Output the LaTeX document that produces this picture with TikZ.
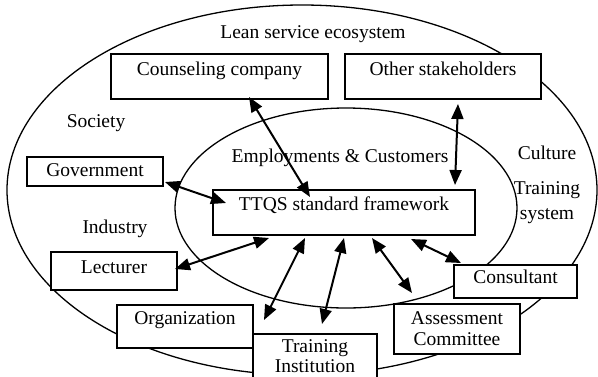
\documentclass[tikz,border=0pt]{standalone}
\usepackage{fontspec}
\setmainfont{Liberation Serif}
\usetikzlibrary{arrows.meta}

\tikzset{
    box/.style={draw, fill=white, line width=2pt, inner sep=0pt, anchor=north west},
    link/.style={<->, >={Triangle[length=15pt, width=12pt]}, line width=2pt},
}

\begin{document}
\begin{tikzpicture}[x=1pt, y=-1pt, font=\fontsize{19.5}{21}\selectfont]
    \useasboundingbox (0,0) rectangle (598,376);
    \clip (0,0) rectangle (598,376);
    \draw[line width=1.3pt] (302,190) ellipse [x radius=295, y radius=185];
    \draw[line width=1.3pt] (346,208) ellipse [x radius=171, y radius=100];

    \node[anchor=base] (eco) at (313,38) {Lean service ecosystem};
    \node[anchor=base] (soc) at (96,127) {Society};
    \node[anchor=base] (emp) at (340,162) {Employments \& Customers};
    \node[anchor=base] (cul) at (547,159) {Culture};
    \node[align=center, font=\fontsize{19.5}{25}\selectfont] (trs) at (547,203) {Training\\system};
    \node[anchor=base] (ind) at (115,233) {Industry};

    \node[box, minimum width=217pt, text height=21pt, text depth=24pt] (cc) at (110,53) {Counseling company};
    \node[box, minimum width=196pt, text height=21pt, text depth=24pt] (os) at (344,53) {Other stakeholders};
    \node[box, minimum width=136pt, text height=19pt, text depth=10pt] (gov) at (26,156) {Government};
    \node[box, minimum width=262pt, text height=20pt, text depth=25pt] (tt) at (212,189) {TTQS standard framework};
    \node[box, minimum width=126pt, text height=21pt, text depth=17pt] (lec) at (50,251) {Lecturer};
    \node[box, minimum width=136pt, text height=19pt, text depth=24pt] (org) at (116,304) {Organization};
    \node[box, minimum width=124pt, minimum height=44pt, align=center, font=\fontsize{19.5}{20}\selectfont] (ti) at (252,333) {Training\\Institution};
    \node[box, minimum width=126pt, minimum height=50pt, align=center] (asc) at (393,303) {Assessment\\Committee};
    \node[box, minimum width=123pt, text height=18pt, text depth=15pt] (con) at (453,264) {Consultant};

    \draw[link] ([shift={(29.5,-3)}]cc.south) to ([shift={(-34,8)}]tt.north);
    \draw[link] ([shift={(15,4)}]os.south) to ([shift={(-21,-4)}]tt.north east);
    \draw[link] ([shift={(1,-5)}]gov.south east) to ([shift={(14,14)}]tt.north west);
    \draw[link] ([shift={(-3,-2)}]lec.east) to ([shift={(57,2)}]tt.south west);
    \draw[link] ([shift={(10,16)}]org.north east) to ([shift={(-39,2)}]tt.south);
    \draw[link] ([shift={(7,-9)}]ti.north) to ([shift={(0,2)}]tt.south);
    \draw[link] ([shift={(19,-10)}]asc.north west) to ([shift={(28,2)}]tt.south);
    \draw[link] ([shift={(8,-1)}]con.north west) to ([shift={(-65,3)}]tt.south east);
\end{tikzpicture}
\end{document}
